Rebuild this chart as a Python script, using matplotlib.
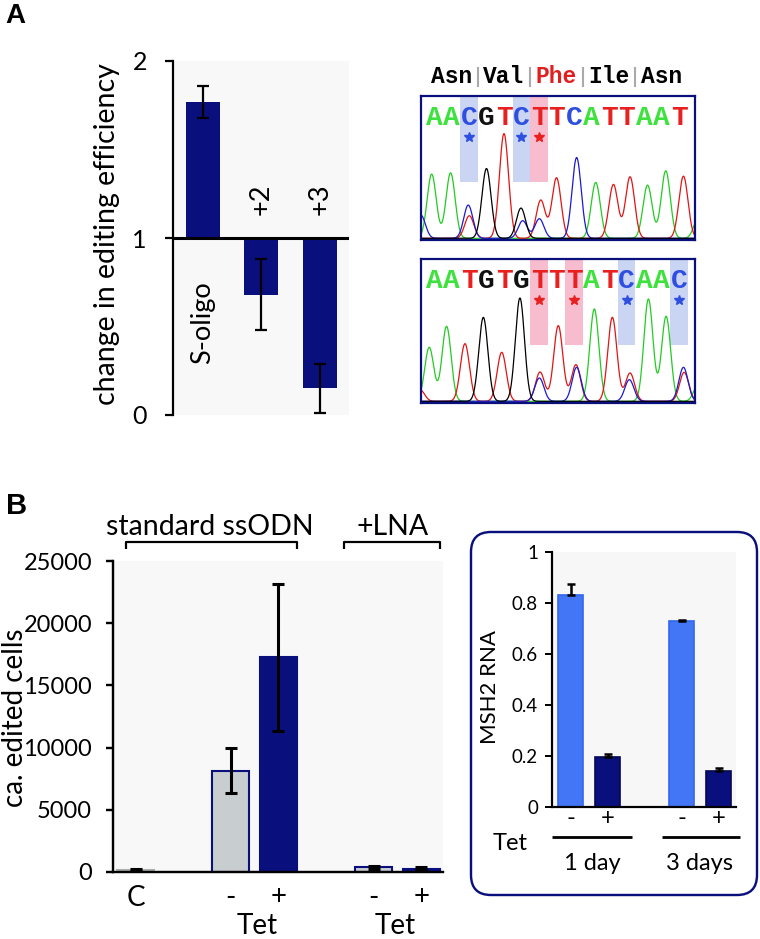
import numpy as np
import matplotlib
matplotlib.use('Agg')
import matplotlib.pyplot as plt
from matplotlib.patches import FancyBboxPatch
from matplotlib.lines import Line2D

plt.rcParams['font.family'] = ['Lato', 'DejaVu Sans']

# ---------------- data ----------------
# Panel A: change in editing efficiency
a_labels = ['S-oligo', '+2', '+3']
a_values = [1.77, 0.68, 0.15]
a_err = [0.09, 0.20, 0.14]

# Panel A: chromatograms
seq_top = 'AACGTCTTCATTAAT'
seq_bot = 'AATGTGTTTATCAAC'
codons = ['Asn', 'Val', 'Phe', 'Ile', 'Asn']
codon_colors = ['black', 'black', '#e02020', 'black', 'black']
marked_top = [2, 5, 6]
marked_bot = [6, 8, 11, 14]
# peaks: position (base index), base, height (signal units)
top_pk_pos = [-0.75, -0.13, 0.95, 1.96, 2.02, 3.0, 4.0, 4.97, 5.07, 6.02, 6.1, 7.0,
              8.15, 9.24, 10.25, 11.2, 12.2, 13.24, 14.25, 15.1]
top_pk_base = ['C', 'A', 'A', 'C', 'T', 'G', 'T', 'G', 'C', 'C', 'T', 'T',
               'C', 'A', 'T', 'T', 'A', 'A', 'T', 'A']
top_pk_h = [70, 193, 197, 100, 68, 210, 315, 91, 53, 59, 115, 182,
            243, 168, 162, 185, 160, 203, 187, 60]
bot_pk_pos = [-0.8, -0.27, 0.72, 1.77, 2.82, 3.87, 4.91, 6.02, 6.06, 7.1, 8.11, 8.15,
              9.16, 10.19, 11.16, 11.2, 12.25, 13.26, 14.25, 14.29, 15.1]
bot_pk_base = ['T', 'A', 'A', 'T', 'G', 'T', 'G', 'C', 'T', 'T', 'T', 'C',
               'A', 'T', 'C', 'T', 'A', 'A', 'C', 'T', 'A']
bot_pk_h = [35, 162, 225, 173, 252, 147, 310, 70, 88, 227, 110, 102,
            277, 252, 65, 85, 307, 255, 102, 87, 50]

# Panel B: edited cells
b_labels = ['C', '-', '+', '-', '+']
b_values = [150, 8150, 17250, 380, 280]
b_err = [80, 1800, 5900, 120, 100]
b_kind = ['ctrl', 'minus', 'plus', 'minus', 'plus']

# Panel B inset: MSH2 RNA
c_labels = ['-', '+', '-', '+']
c_values = [0.831, 0.196, 0.729, 0.141]
c_err = [0.045, 0.012, 0.006, 0.011]
c_kind = ['minus', 'plus', 'minus', 'plus']

# ---------------- style ----------------
NAVY = '#0a0f7e'
W, H = 760, 939
PX = 72 / 100  # points per pixel
trace_col = {'A': '#22cc22', 'C': '#1a1ad0', 'G': '#000000', 'T': '#e01515'}
letter_col = {'A': '#3de23d', 'C': '#2f4fe0', 'G': '#111111', 'T': '#e82020'}
band_col = {'C': '#c9d5f3', 'T': '#f8bccf'}
MONO = ['Liberation Mono']

fig = plt.figure(figsize=(W / 100, H / 100), dpi=100)


def fax(left, top, right, bottom):
    return fig.add_axes([left / W, 1 - bottom / H, (right - left) / W, (bottom - top) / H])


# ---------------- Panel A bars ----------------
axA = fax(173, 61, 349, 415)
axA.set_facecolor('#f8f8f8')
xa = np.arange(len(a_values))
axA.bar(xa, np.array(a_values) - 1, bottom=1, width=0.58, color=NAVY, zorder=2,
        yerr=a_err, error_kw=dict(ecolor='black', elinewidth=1.6, capsize=4, capthick=1.6, zorder=3))
axA.axhline(1, color='black', lw=2.2, zorder=4)
axA.set_xlim(-0.51, 2.5)
axA.set_ylim(0, 2)
axA.set_yticks([0, 1, 2])
axA.set_xticks([])
for s in ['top', 'right', 'bottom']:
    axA.spines[s].set_visible(False)
axA.spines['left'].set_linewidth(2.2 * PX)
axA.tick_params(axis='y', length=8 * PX, width=2.2 * PX, labelsize=18, pad=13)
axA.text(xa[0], 0.52, a_labels[0], rotation=90, ha='center', va='center', fontsize=19.5)
axA.text(xa[1], 1.22, a_labels[1], rotation=90, ha='center', va='center', fontsize=19.5)
axA.text(xa[2], 1.22, a_labels[2], rotation=90, ha='center', va='center', fontsize=19.5)


# ---------------- Chromatograms ----------------
def chromo(ax, seq, pos, base, hts, marked, ymax, with_codons=False):
    x0, x1 = -0.74, 14.91
    ax.set_xlim(x0, x1)
    ax.set_ylim(-5, ymax)
    for i in marked:
        ax.axvspan(i - 0.5, i + 0.5, ymin=0.405, ymax=1, color=band_col[seq[i]], lw=0, zorder=0)
    xs = np.linspace(x0, x1, 1500)
    pos = np.array(pos); hts = np.array(hts); base = np.array(base)
    for b in ['A', 'T', 'C', 'G']:
        sel = base == b
        y = np.zeros_like(xs)
        for p, h in zip(pos[sel], hts[sel]):
            y += h * np.exp(-0.5 * ((xs - p) / 0.26) ** 2)
        ax.plot(xs, y, color=trace_col[b], lw=0.9, zorder=2)
    for i, ch in enumerate(seq):
        ax.text(i, 362, ch, color=letter_col[ch], family=MONO, weight='bold', fontsize=20,
                ha='center', va='center', zorder=3)
    for i in marked:
        ax.plot(i, 305, marker='*', ms=7, color=letter_col[seq[i]], ls='none', zorder=3)
    for s in ax.spines.values():
        s.set_color(NAVY)
        s.set_linewidth(2.2 * PX)
    ax.set_xticks([]); ax.set_yticks([])
    if with_codons:
        tr = ax.get_xaxis_transform()
        for k, (cd, cc) in enumerate(zip(codons, codon_colors)):
            ax.text(3 * k + 1, 1.135, cd, transform=tr, ha='center', va='center', family=MONO,
                    weight='bold', fontsize=16.5, color=cc, clip_on=False)
        for k in range(1, 5):
            ax.add_line(Line2D([3 * k - 0.5] * 2, [1.07, 1.195], transform=tr, color='#aaaaaa',
                               lw=1.5, clip_on=False))


axT = fax(421, 96, 695, 240)
chromo(axT, seq_top, top_pk_pos, top_pk_base, top_pk_h, marked_top, 428, with_codons=True)
axBt = fax(421, 259, 695, 403)
chromo(axBt, seq_bot, bot_pk_pos, bot_pk_base, bot_pk_h, marked_bot, 427)

# ---------------- Panel B left ----------------
axB = fax(113, 561, 443, 872)
axB.set_facecolor('#f8f8f9')
xb = np.array([0, 2, 3, 5, 6])
face = {'ctrl': '#bcc3c3', 'minus': '#c8cecf', 'plus': NAVY}
edge = {'ctrl': '#a8afaf', 'minus': NAVY, 'plus': NAVY}
axB.bar(xb, b_values, width=0.78, color=[face[k] for k in b_kind],
        edgecolor=[edge[k] for k in b_kind], linewidth=1.5, zorder=2,
        yerr=b_err, error_kw=dict(ecolor='black', elinewidth=2.2, capsize=4.5, capthick=2.2, zorder=3))
axB.set_xlim(-0.48, 6.46)
axB.set_ylim(0, 25000)
axB.set_yticks(np.arange(0, 25001, 5000))
axB.set_xticks(xb)
axB.set_xticklabels(b_labels, fontsize=20)
for s in ['top', 'right']:
    axB.spines[s].set_visible(False)
for s in ['left', 'bottom']:
    axB.spines[s].set_linewidth(2.4 * PX)
axB.tick_params(axis='y', length=7 * PX, width=2.4 * PX, labelsize=17, pad=10)
axB.tick_params(axis='x', length=0, pad=9)

# ---------------- Panel B inset ----------------
axC = fax(552, 552, 736, 807)
axC.set_facecolor('#f7f7f7')
xc = np.array([0, 1, 3, 4])
cface = {'minus': '#4276f7', 'plus': NAVY}
cedge = {'minus': '#3366ee', 'plus': '#050850'}
axC.bar(xc, c_values, width=0.68, color=[cface[k] for k in c_kind],
        edgecolor=[cedge[k] for k in c_kind], linewidth=1.2, zorder=2,
        yerr=[np.zeros(len(c_err)), c_err],
        error_kw=dict(ecolor='black', elinewidth=1.8, capsize=3, capthick=1.8, zorder=3))
axC.set_xlim(-0.5, 4.47)
axC.set_ylim(0, 1)
axC.set_yticks([0, 0.2, 0.4, 0.6, 0.8, 1.0])
axC.set_yticklabels(['0', '0.2', '0.4', '0.6', '0.8', '1'])
axC.set_xticks(xc)
axC.set_xticklabels(c_labels, fontsize=17)
for s in ['top', 'right']:
    axC.spines[s].set_visible(False)
for s in ['left', 'bottom']:
    axC.spines[s].set_linewidth(2.2 * PX)
axC.tick_params(axis='y', length=7 * PX, width=2 * PX, labelsize=13.5, pad=5)
axC.tick_params(axis='x', length=0, pad=1)

# ---------------- overlay (texts, brackets, box) ----------------
ov = fig.add_axes([0, 0, 1, 1])
ov.set_xlim(0, W)
ov.set_ylim(0, H)
ov.axis('off')


def Y(y):
    return H - y


def line(xs, ys, lw=2.2, color='black'):
    ov.plot(xs, [Y(v) for v in ys], color=color, lw=lw * PX, solid_capstyle='butt')


ov.text(15, Y(16), 'A', fontsize=20, weight='bold', family=['Liberation Sans'], ha='center', va='center')
ov.text(17, Y(506), 'B', fontsize=21, weight='bold', family=['Liberation Sans'], ha='center', va='center')
ov.text(107, Y(234), 'change in editing efficiency', rotation=90, fontsize=20.5, ha='center', va='center')
ov.text(15, Y(718), 'ca. edited cells', rotation=90, fontsize=20, ha='center', va='center')

ov.text(210, Y(535), 'standard ssODN', fontsize=20.5, ha='center', va='baseline')
ov.text(393, Y(535), '+LNA', fontsize=20.5, ha='center', va='baseline')
line([126, 126, 297, 297], [549, 542, 542, 549])
line([344, 344, 440, 440], [549, 542, 542, 549])
ov.text(257, Y(938.5), 'Tet', fontsize=20, ha='center', va='bottom')
ov.text(395, Y(938.5), 'Tet', fontsize=20, ha='center', va='bottom')

box = FancyBboxPatch((471, Y(895)), 286, 363, boxstyle='round,pad=0,rounding_size=20',
                     fill=False, ec=NAVY, lw=2.4 * PX)
ov.add_patch(box)
ov.text(490, Y(687), 'MSH2 RNA', rotation=90, fontsize=16, ha='center', va='center')
line([552, 632], [837, 837], lw=2.8)
line([662, 740], [837, 837], lw=2.8)
ov.text(510, Y(843), 'Tet', fontsize=17, ha='center', va='center')
ov.text(592, Y(863), '1 day', fontsize=17, ha='center', va='center')
ov.text(700, Y(863), '3 days', fontsize=17, ha='center', va='center')

fig.savefig('out.png', dpi=100)
